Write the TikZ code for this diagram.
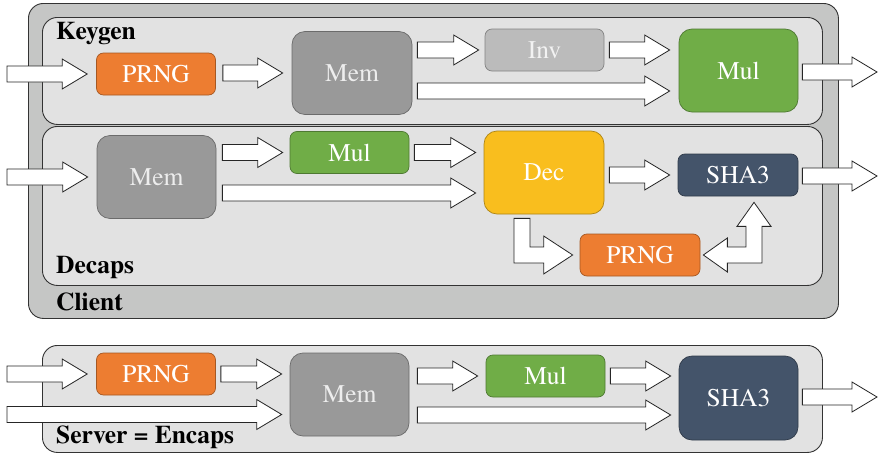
\documentclass[tikz,border=0pt]{standalone}
\usepackage{fontspec}
\setmainfont{texgyretermes}[Extension=.otf, UprightFont=*-regular, BoldFont=*-bold, ItalicFont=*-italic, BoldItalicFont=*-bolditalic]
\usetikzlibrary{calc}
\definecolor{clientfill}{RGB}{197,198,197}
\definecolor{stagefill}{RGB}{226,226,226}
\definecolor{prngc}{RGB}{237,125,49}
\definecolor{memc}{RGB}{153,153,153}
\definecolor{invc}{RGB}{187,187,187}
\definecolor{mulc}{RGB}{112,173,71}
\definecolor{decc}{RGB}{249,190,30}
\definecolor{shac}{RGB}{68,84,106}
\begin{document}
\begin{tikzpicture}[x=1pt,y=-1pt,
  group/.style={draw=black!80, line width=0.9pt, rounded corners=15pt, inner sep=0pt, anchor=north west},
  blk/.style={draw=#1!70!black, fill=#1, rounded corners=7pt, text=white, inner sep=0pt,
    minimum width=119pt, minimum height=42pt, font=\fontsize{25.5}{28}\selectfont, line width=0.7pt},
  big/.style={minimum height=83pt, rounded corners=13pt},
  tag/.style={anchor=base west, font=\fontsize{25.5}{28}\selectfont\bfseries, inner sep=0pt},
  fat/.style={draw=black!85, fill=white, line width=0.8pt,
    to path={let \p1=(\tikztostart), \p2=(\tikztotarget) in
      (\x1,\y2+8pt) -- (\x2-25pt,\y2+8pt) -- (\x2-25pt,\y2+15pt) -- (\x2,\y2)
      -- (\x2-25pt,\y2-15pt) -- (\x2-25pt,\y2-8pt) -- (\x1,\y2-8pt) -- cycle}},
  bent/.style={draw=black!85, fill=white, line width=0.8pt},
]
\useasboundingbox (0,0) rectangle (878,455);

% ---------- frames ----------
\node[group, fill=clientfill, minimum width=810pt, minimum height=315pt] (client) at (28,3) {};
\node[group, fill=stagefill, minimum width=780pt, minimum height=107pt] (keygen) at (42,17) {};
\node[group, fill=stagefill, minimum width=780pt, minimum height=159pt] (decaps) at (42,126) {};
\node[group, fill=stagefill, minimum width=780pt, minimum height=107pt] (server) at (42,345) {};

\node[tag] (tkey) at (56,39) {Keygen};
\node[tag] (tdec) at (56,273) {Decaps};
\node[tag] (tcli) at (56,310) {Client};
\node[tag] (tsrv) at (56,443) {Server = Encaps};

% ---------- Keygen ----------
\node[blk=prngc] (prngk) at (156,74) {PRNG};
\node[blk=memc, big, minimum width=120pt, text=white!93!black] (memk) at (352,73) {Mem};
\node[blk=invc, text=white!95!black] (invk) at (544.5,50) {Inv};
\node[blk=mulc, big] (mulk) at (738.5,70.5) {Mul};

\coordinate (ink) at (7,74);
\coordinate (outk) at (877,72);
\draw[fat] (ink) to ([xshift=-9pt]prngk.west);
\draw[fat] ([xshift=7pt]prngk.east) to ([xshift=-9pt]memk.west);
\draw[fat] ([xshift=5pt]memk.east) to ([xshift=-6pt]invk.west);
\draw[fat] ([xshift=5pt]invk.east) to ($(mulk.west |- invk.west)+(-9,0)$);
\draw[fat] ([xshift=5pt]memk.east) to ($(mulk.west)+(-9,20.5)$);
\draw[fat] ([xshift=4pt]mulk.east) to (outk);

% ---------- Decaps ----------
\node[blk=memc, big, text=white!93!black] (memd) at (156.5,177) {Mem};
\node[blk=mulc] (muld) at (349.5,152.5) {Mul};
\node[blk=decc, big, minimum width=120pt] (dec) at (544,172.5) {Dec};
\node[blk=shac, minimum width=120pt] (sha3d) at (738,175) {SHA3};
\node[blk=prngc, minimum width=120pt] (prngd) at (640,255) {PRNG};

\coordinate (ind) at (7,177);
\coordinate (outd) at (877,176);
\draw[fat] (ind) to ([xshift=-9pt]memd.west);
\draw[fat] ([xshift=6pt]memd.east) to ([xshift=-7pt]muld.west);
\draw[fat] ([xshift=5pt]muld.east) to ($(dec.west |- muld.east)+(-8,0)$);
\draw[fat] ([xshift=6pt]memd.east) to ($(dec.west)+(-8,20.5)$);
\draw[fat] ([xshift=5pt]dec.east) to ([xshift=-8pt]sha3d.west);
\draw[fat] ([xshift=4pt]sha3d.east) to (outd);

% Dec down and into PRNG
\draw[bent] let \p1=(dec.south), \p2=(prngd.west) in
  (\x1-30pt,\y1-4pt) -- (\x1-14pt,\y1-4pt) -- (\x1-14pt,\y2+8pt) -- (\x2-36pt,\y2+8pt)
  -- (\x2-36pt,\y2+19pt) -- (\x2-7pt,\y2) -- (\x2-36pt,\y2-19pt) -- (\x2-36pt,\y2-8pt)
  -- (\x1-30pt,\y2-8pt) -- cycle;

% PRNG <-> SHA3
\draw[bent] let \p1=(prngd.east), \p2=(sha3d.south), \n1={\x2+16pt} in
  (\x1+3pt,\y1) -- (\x1+27pt,\y1+17pt) -- (\x1+27pt,\y1+8pt) -- (\n1-8pt,\y1+8pt)
  -- (\n1-8pt,\y2-30pt) -- (\n1-17pt,\y2-30pt) -- (\n1,\y2-6pt) -- (\n1+17pt,\y2-30pt)
  -- (\n1+8pt,\y2-30pt) -- (\n1+8pt,\y1-8pt) -- (\x1+27pt,\y1-8pt) -- (\x1+27pt,\y1-17pt) -- cycle;

% ---------- Server = Encaps ----------
\node[blk=prngc] (prngs) at (156,374) {PRNG};
\node[blk=memc, big, text=white!93!black] (mems) at (349.5,394.5) {Mem};
\node[blk=mulc] (muls) at (545.5,376) {Mul};
\node[blk=shac, big, minimum height=84pt] (sha3s) at (738.5,398) {SHA3};

\coordinate (ins) at (7,374);
\coordinate (ins2) at (7,414);
\coordinate (outs) at (877,397);
\draw[fat] (ins) to ([xshift=-9pt]prngs.west);
\draw[fat] (ins2) to ($(mems.west)+(-8,20)$);
\draw[fat] ([xshift=5pt]prngs.east) to ($(mems.west |- prngs.east)+(-8,0)$);
\draw[fat] ([xshift=8pt]mems.east) to ([xshift=-8pt]muls.west);
\draw[fat] ([xshift=5pt]muls.east) to ($(sha3s.west |- muls.east)+(-8,0)$);
\draw[fat] ([xshift=8pt]mems.east) to ($(sha3s.west)+(-8,17)$);
\draw[fat] ([xshift=4pt]sha3s.east) to (outs);
\end{tikzpicture}
\end{document}
